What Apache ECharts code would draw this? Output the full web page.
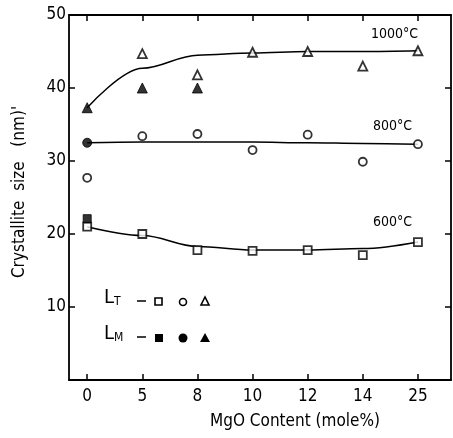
<!DOCTYPE html>
<html><head><meta charset="utf-8">
<script src="https://cdn.jsdelivr.net/npm/echarts@6/dist/echarts.min.js"></script>
<style>html,body{margin:0;padding:0;background:#fff}#c{width:453px;height:438px}</style>
</head><body><div id="c"></div>
<script>
const categories = ['0','5','8','10','12','14','25'];
const yTicks = [0,10,20,30,40,50];
// 1000 C
const lt1000 = [null,44.7,41.8,44.9,45.0,43.0,45.1];
const lm1000 = [37.3,40.0,40.0,null,null,null,null];
const fit1000 = [37.3,42.7,44.5,44.8,45.0,45.0,45.1];
// 800 C
const lt800 = [27.7,33.4,33.7,31.5,33.6,29.9,32.3];
const lm800 = [32.5,null,null,null,null,null,null];
const fit800 = [32.5,32.6,32.6,32.6,32.5,32.4,32.3];
// 600 C
const lt600 = [21.0,20.0,17.8,17.7,17.8,17.1,18.9];
const lm600 = [22.1,null,null,null,null,null,null];
const fit600 = [21.0,19.8,18.3,17.8,17.8,18.0,18.9];

const FONT = '"DejaVu Sans Condensed","Liberation Sans Narrow","DejaVu Sans",sans-serif';
const pts = arr => arr.map((v,i)=>v==null?null:[i,v]).filter(p=>p);
const idx = categories.map((c,i)=>i);

function line(d){return {type:'line',data:pts(d),smooth:0.35,smoothMonotone:'x',showSymbol:false,symbol:'none',lineStyle:{color:'#000',width:1.5},z:2,silent:true};}
function open(d,sym,size){return {type:'scatter',data:pts(d),symbol:sym,symbolSize:size,itemStyle:{color:'#fff',borderColor:'#000',borderWidth:1.8},z:3};}
function fill(d,sym,size){return {type:'scatter',data:pts(d),symbol:sym,symbolSize:size,itemStyle:{color:'#000',borderColor:'#000',borderWidth:1},z:4};}

const chart = echarts.init(document.getElementById('c'),null,{renderer:'canvas'});
const axisLine = {show:true,onZero:false,lineStyle:{color:'#000',width:1.8}};
const tick = {show:true,inside:true,length:6,lineStyle:{color:'#000',width:1.5}};
chart.setOption({
  animation:false,
  grid:{left:69,right:2,top:15,bottom:58},
  xAxis:[{
    type:'value',min:-0.33,max:6.6,position:'bottom',
    axisLine:axisLine,splitLine:{show:false},
    axisTick:Object.assign({customValues:idx},tick),
    axisLabel:{customValues:idx,formatter:v=>categories[Math.round(v)],color:'#000',fontSize:17,fontFamily:FONT,margin:8}
  },{
    type:'value',min:-0.33,max:6.6,position:'top',
    axisLine:axisLine,splitLine:{show:false},
    axisTick:Object.assign({customValues:idx},tick),
    axisLabel:{show:false}
  }],
  yAxis:[{
    type:'value',min:0,max:50,interval:10,position:'left',
    axisLine:axisLine,splitLine:{show:false},
    axisTick:tick,
    axisLabel:{color:'#000',fontSize:17,fontFamily:FONT,margin:3,formatter:v=>yTicks.includes(v)&&v>0?String(v):''}
  },{
    type:'value',min:0,max:50,interval:10,position:'right',
    axisLine:axisLine,splitLine:{show:false},
    axisTick:tick,
    axisLabel:{show:false}
  }],
  series:[
    line(fit1000),line(fit800),line(fit600),
    open(lt1000,'triangle',9),fill(lm1000,'triangle',10),
    open(lt800,'circle',8),fill(lm800,'circle',9),
    open(lt600,'rect',8),fill(lm600,'rect',8)
  ],
  graphic:[
    {type:'text',left:371,top:27,style:{text:'1000°C',font:'14px '+FONT,fill:'#000'}},
    {type:'text',left:373,top:119,style:{text:'800°C',font:'14px '+FONT,fill:'#000'}},
    {type:'text',left:373,top:215,style:{text:'600°C',font:'14px '+FONT,fill:'#000'}},
    {type:'text',x:295,y:422,style:{text:'MgO Content (mole%)',font:'17px '+FONT,fill:'#000',align:'center',verticalAlign:'middle'}},
    {type:'text',x:20,y:192,rotation:Math.PI/2,style:{text:"Crystallite  size   (nm)'",font:'17px '+FONT,fill:'#000',align:'center',verticalAlign:'middle'}},
    {type:'text',left:104,top:288,style:{rich:{a:{font:'20px '+FONT,fill:'#000'},s:{font:'12px '+FONT,fill:'#000',verticalAlign:'bottom',padding:[8,0,0,0]}},text:'{a|L}{s|T}',fill:'#000'}},
    {type:'text',left:104,top:324,style:{rich:{a:{font:'20px '+FONT,fill:'#000'},s:{font:'12px '+FONT,fill:'#000',verticalAlign:'bottom',padding:[8,0,0,0]}},text:'{a|L}{s|M}',fill:'#000'}},
    {type:'line',shape:{x1:137,y1:301,x2:146,y2:301},style:{stroke:'#000',lineWidth:1.5}},
    {type:'line',shape:{x1:137,y1:337,x2:146,y2:337},style:{stroke:'#000',lineWidth:1.5}},
    {type:'rect',shape:{x:155,y:298,width:7,height:7},style:{fill:'#fff',stroke:'#000',lineWidth:1.6}},
    {type:'circle',shape:{cx:183,cy:302,r:3.5},style:{fill:'#fff',stroke:'#000',lineWidth:1.6}},
    {type:'polygon',shape:{points:[[205,297],[201,305],[209,305]]},style:{fill:'#fff',stroke:'#000',lineWidth:1.6}},
    {type:'rect',shape:{x:155,y:334,width:8,height:8},style:{fill:'#000'}},
    {type:'circle',shape:{cx:183,cy:338,r:4.5},style:{fill:'#000'}},
    {type:'polygon',shape:{points:[[205,333],[200,342],[210,342]]},style:{fill:'#000'}}
  ]
});
</script></body></html>
